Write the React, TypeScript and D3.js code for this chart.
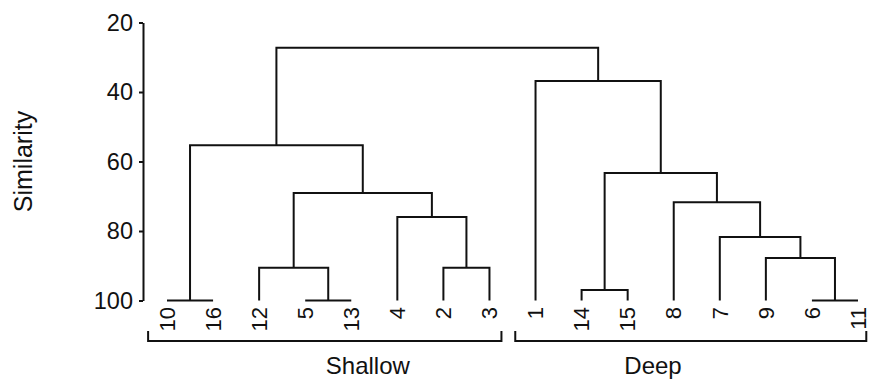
import React, { useEffect, useRef } from 'react';
import * as d3 from 'd3';

// leaf order along the bottom
const leafOrder = ['10', '16', '12', '5', '13', '4', '2', '3', '1', '14', '15', '8', '7', '9', '6', '11'];

// linkage: [childA, childB, similarity], clusters are named c1, c2, ... in order
const merges: [string, string, number][] = [
  ['10', '16', 100], // c1
  ['5', '13', 100], // c2
  ['12', 'c2', 90.6], // c3
  ['2', '3', 90.6], // c4
  ['4', 'c4', 76], // c5
  ['c3', 'c5', 69.1], // c6
  ['c1', 'c6', 55.3], // c7
  ['6', '11', 100], // c8
  ['9', 'c8', 87.8], // c9
  ['7', 'c9', 81.7], // c10
  ['8', 'c10', 71.7], // c11
  ['14', '15', 97], // c12
  ['c12', 'c11', 63.3], // c13
  ['1', 'c13', 36.8], // c14
  ['c7', 'c14', 27.3], // c15
];

const yTicks = [20, 40, 60, 80, 100];

// groups: bracket ends and label position, in leaf-index units
const groupNames = ['Shallow', 'Deep'];
const groupStart = [-0.41, 7.56];
const groupEnd = [7.26, 15.18];
const groupLabelAt = [4.36, 10.55];

const FONT = 'Liberation Sans, Arial, Helvetica, sans-serif';

const App: React.FC = () => {
  const svgRef = useRef<SVGSVGElement | null>(null);

  useEffect(() => {
    if (!svgRef.current) return;
    const svg = d3.select(svgRef.current);
    svg.selectAll('*').remove();

    const axisX = 143;
    const y = d3.scaleLinear().domain([20, 100]).range([22.5, 300.5]);
    const x = d3.scalePoint<string>().domain(leafOrder).range([167, 858]);
    const xi = d3.scaleLinear().domain([0, leafOrder.length - 1]).range([167, 858]);

    const g = svg.append('g');

    // Y axis
    const axis = g
      .append('g')
      .attr('transform', `translate(${axisX},0)`)
      .call(d3.axisLeft(y).tickValues(yTicks).tickSize(4).tickPadding(6).tickSizeOuter(0));
    axis.select('.domain').attr('stroke', '#111').attr('stroke-width', 2);
    axis.selectAll('.tick line').attr('stroke', '#111').attr('stroke-width', 2);
    axis
      .selectAll('.tick text')
      .attr('fill', '#111')
      .attr('font-size', 23.5)
      .attr('font-family', FONT);

    g.append('text')
      .attr('transform', `translate(23,${(y(20) + y(100)) / 2}) rotate(-90)`)
      .attr('text-anchor', 'middle')
      .attr('dy', '0.35em')
      .attr('font-size', 25)
      .attr('font-family', FONT)
      .attr('fill', '#111')
      .text('Similarity');

    // node positions
    const pos: Record<string, { x: number; sim: number }> = {};
    leafOrder.forEach((l) => (pos[l] = { x: x(l) as number, sim: 100 }));

    const links = g.append('g').attr('fill', 'none').attr('stroke', '#111').attr('stroke-width', 2);
    merges.forEach(([a, b, sim], i) => {
      const pa = pos[a];
      const pb = pos[b];
      const p = d3.path();
      p.moveTo(pa.x, y(pa.sim));
      p.lineTo(pa.x, y(sim));
      p.lineTo(pb.x, y(sim));
      p.lineTo(pb.x, y(pb.sim));
      links.append('path').attr('d', p.toString()).attr('stroke-linejoin', 'miter');
      pos[`c${i + 1}`] = { x: (pa.x + pb.x) / 2, sim };
    });

    // leaf labels
    g.selectAll('text.leaf')
      .data(leafOrder)
      .enter()
      .append('text')
      .attr('class', 'leaf')
      .attr('transform', (d) => `translate(${x(d)},307) rotate(-90)`)
      .attr('text-anchor', 'end')
      .attr('dy', '0.35em')
      .attr('font-size', 22)
      .attr('font-family', FONT)
      .attr('fill', '#111')
      .text((d) => d);

    // group brackets
    groupNames.forEach((name, i) => {
      const x0 = xi(groupStart[i]);
      const x1 = xi(groupEnd[i]);
      g.append('path')
        .attr('d', `M${x0},331V341H${x1}V331`)
        .attr('fill', 'none')
        .attr('stroke', '#111')
        .attr('stroke-width', 2);
      g.append('text')
        .attr('x', xi(groupLabelAt[i]))
        .attr('y', 374)
        .attr('text-anchor', 'middle')
        .attr('font-size', 24)
        .attr('font-family', FONT)
        .attr('fill', '#111')
        .text(name);
    });
  }, []);

  return (
    <svg
      ref={svgRef}
      width={870}
      height={380}
      style={{ position: 'absolute', left: 0, top: 0, background: '#fff' }}
    />
  );
};

export default App;
